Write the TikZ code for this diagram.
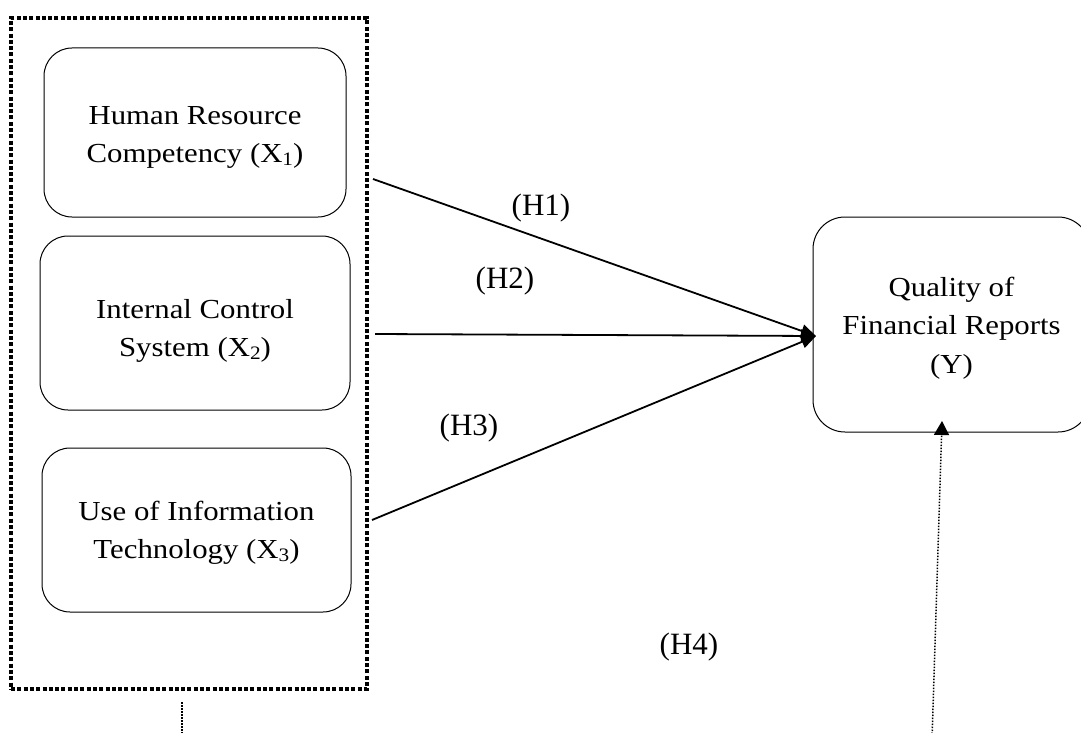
\documentclass[tikz,border=0pt]{standalone}
\usepackage{fontspec}
\setmainfont{Liberation Serif}
\newfontfamily\boxfont{Liberation Serif}[FakeStretch=1.12]
\usetikzlibrary{arrows.meta}
\newcommand{\sbx}[1]{\raisebox{-2.5pt}{\fontsize{19}{19}\selectfont #1}}
\newcommand{\topstrut}[1]{\rule{0pt}{#1}}
\begin{document}
\begin{tikzpicture}[x=1pt,y=-1pt,
  var/.style={draw, line width=1pt, rounded corners=28pt, align=center,
    font=\boxfont\fontsize{27.5}{38.5}\selectfont, inner sep=0pt},
  grpbox/.style={draw, line width=4pt, dash pattern=on 4pt off 2.3pt, inner sep=0pt},
  hyp/.style={font=\fontsize{31}{31}\selectfont, inner sep=0pt},
  arr/.style={line width=1.8pt, -{Triangle[length=15pt,width=13pt]}},
  fine/.style={line width=1.5pt, dash pattern=on 1.5pt off 1.5pt}]
\useasboundingbox (0,0) rectangle (1081,733);
% group frame
\node[grpbox, minimum width=356pt, minimum height=671pt] (grp) at (189,353.5) {};
% variables
\node[var, minimum width=302pt, minimum height=169pt] (x1) at (195,132.5)
  {\topstrut{28pt}Human Resource\\Competency (X\sbx{1})};
\node[var, minimum width=310pt, minimum height=174pt] (x2) at (195,323)
  {\topstrut{35pt}Internal Control\\System (X\sbx{2})};
\node[var, minimum width=309pt, minimum height=164pt] (x3) at (196.5,530)
  {\topstrut{24.5pt}Use of Information\\Technology (X\sbx{3})};
\node[var, rounded corners=32pt, minimum width=277pt, minimum height=215pt] (y) at (951.5,324.5)
  {\topstrut{26.5pt}Quality of\\Financial Reports\\(Y)};
% connector ends
\coordinate (s1) at (373,179);
\coordinate (s2) at (375,334);
\coordinate (s3) at (372,520);
\coordinate (tip) at (816,336);
\coordinate (d1a) at (182,702);
\coordinate (d1b) at (182,740);
\coordinate (d2a) at (932,740);
\coordinate (d2b) at (942,421);
% arrows
\draw[arr] (s1) -- (tip);
\draw[arr] (s2) -- (tip);
\draw[arr] (s3) -- (tip);
\draw[fine] (d1a) -- (d1b);
\draw[fine, -{Triangle[length=14pt,width=15pt]}] (d2a) -- (d2b);
% labels
\node[hyp] (h1) at (541,208) {(H1)};
\node[hyp] (h2) at (505,281) {(H2)};
\node[hyp] (h3) at (469,428) {(H3)};
\node[hyp] (h4) at (689,647) {(H4)};
\end{tikzpicture}
\end{document}
